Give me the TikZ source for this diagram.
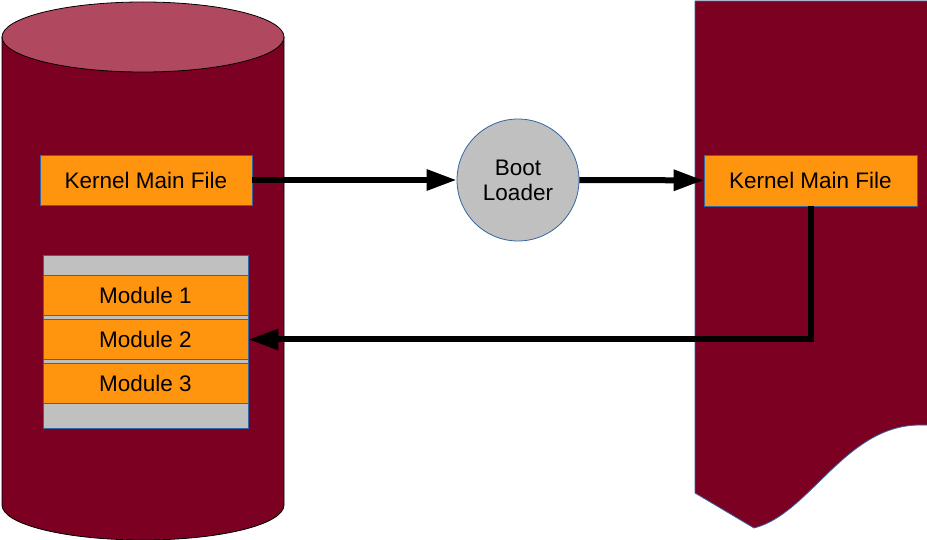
\documentclass[tikz,border=0pt]{standalone}
\usepackage{fontspec}
\setmainfont{Liberation Sans}
\usetikzlibrary{positioning,arrows.meta}
\definecolor{cBody}{RGB}{123,0,34}
\definecolor{cTop}{RGB}{176,72,96}
\definecolor{cOrange}{RGB}{255,149,14}
\definecolor{cGray}{RGB}{192,192,192}
\definecolor{cLine}{RGB}{52,101,164}
\tikzset{
  file/.style={rectangle, draw=cLine, fill=cOrange, line width=0.8pt,
               minimum height=50pt, minimum width=212pt, inner sep=0pt,
               align=center, font=\fontsize{22.5}{25}\selectfont},
  mod/.style={file, minimum height=40pt, minimum width=205pt},
  stack/.style={rectangle, draw=cLine, fill=cGray, line width=0.8pt,
                minimum height=173pt, minimum width=205pt, inner sep=0pt},
  loader/.style={circle, draw=cLine, fill=cGray, line width=0.8pt,
                 minimum size=122pt, inner sep=0pt, align=center,
                 font=\fontsize{22.5}{25}\selectfont},
  flow/.style={-{Triangle[length=30pt, width=20pt]}, line width=6pt},
  disk/.style={draw=black, line width=0.8pt},
  mem/.style={draw=cLine, line width=0.8pt, fill=cBody},
}
\begin{document}
\begin{tikzpicture}[x=1pt, y=1pt, node distance=3pt]
  \useasboundingbox (0,0) rectangle (927,539);
  % disk on the left
  \draw[disk, fill=cBody] (2,502) -- (2,34)
    arc[start angle=180, end angle=360, x radius=141, y radius=35] -- (284,502);
  \draw[disk, fill=cTop] (143,502) ellipse [x radius=141, y radius=35];
  % memory on the right
  \draw[mem] (695,538) -- (695,46) -- (754,11)
    .. controls (810,25) and (845,114) .. (920,114) -- (935,114)
    -- (935,538) -- cycle;
  % files and modules
  \node[file] (kmain) at (146,359) {Kernel Main File};
  \node[stack] (modstack) at (145.5,197.5) {};
  \node[mod] (mod2) at (145.5,199.5) {Module 2};
  \node[mod, above=of mod2] (mod1) {Module 1};
  \node[mod, below=of mod2] (mod3) {Module 3};
  \node[loader] (boot) at (518,359) {Boot\\Loader};
  \node[file, minimum width=213pt, minimum height=51pt] (kmainr) at (810.5,358.5)
    {Kernel Main File};
  % loading steps
  \draw[flow] (kmain) -- (boot);
  \draw[flow] (boot) -- (kmainr);
  \draw[flow] (kmainr.south) |- (mod2);
\end{tikzpicture}
\end{document}
